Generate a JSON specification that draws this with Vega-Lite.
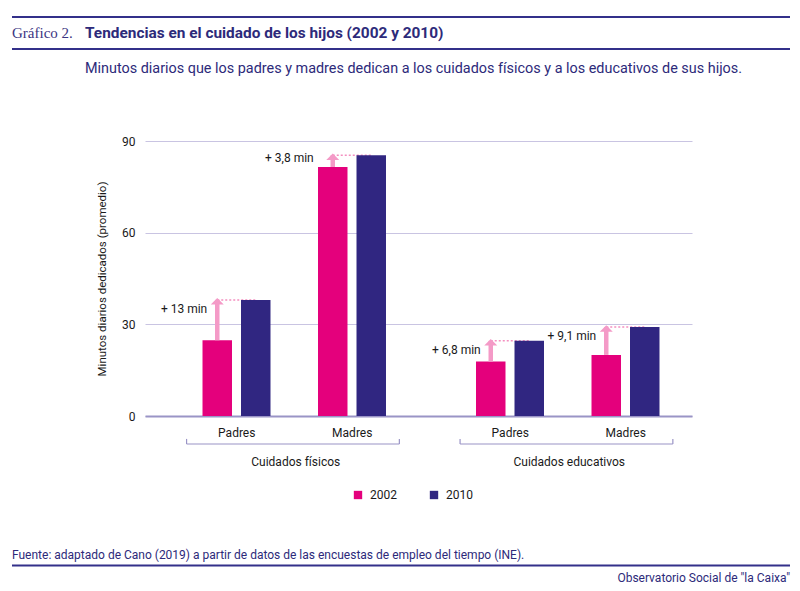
{
  "$schema": "https://vega.github.io/schema/vega-lite/v6.json",
  "description": "Tendencias en el cuidado de los hijos (2002 y 2010)",
  "width": 547,
  "height": 275,
  "autosize": {"type": "none"},
  "padding": {"left": 145, "top": 141, "right": 108, "bottom": 175},
  "background": "white",
  "config": {
    "view": {"stroke": null},
    "font": "Roboto",
    "text": {"font": "Roboto", "fontSize": 12, "color": "#1a1a1a"}
  },
  "datasets": {
    "barras": [
      {"cuidado": "Cuidados físicos", "grupo": "Padres", "año": "2002", "serie": "Padres 2002", "minutos": 24.8},
      {"cuidado": "Cuidados físicos", "grupo": "Padres", "año": "2010", "serie": "Padres 2010", "minutos": 38.0},
      {"cuidado": "Cuidados físicos", "grupo": "Madres", "año": "2002", "serie": "Madres 2002", "minutos": 81.5},
      {"cuidado": "Cuidados físicos", "grupo": "Madres", "año": "2010", "serie": "Madres 2010", "minutos": 85.3},
      {"cuidado": "Cuidados educativos", "grupo": "Padres", "año": "2002", "serie": "Padres 2002", "minutos": 17.8},
      {"cuidado": "Cuidados educativos", "grupo": "Padres", "año": "2010", "serie": "Padres 2010", "minutos": 24.6},
      {"cuidado": "Cuidados educativos", "grupo": "Madres", "año": "2002", "serie": "Madres 2002", "minutos": 20.0},
      {"cuidado": "Cuidados educativos", "grupo": "Madres", "año": "2010", "serie": "Madres 2010", "minutos": 29.1}
    ],
    "flechas": [
      {"cuidado": "Cuidados físicos", "grupo": "Padres", "s2002": "Padres 2002", "s2010": "Padres 2010", "v2002": 24.8, "v2010": 38.0, "etiqueta": "+ 13 min"},
      {"cuidado": "Cuidados físicos", "grupo": "Madres", "s2002": "Madres 2002", "s2010": "Madres 2010", "v2002": 81.5, "v2010": 85.3, "etiqueta": "+ 3,8 min"},
      {"cuidado": "Cuidados educativos", "grupo": "Padres", "s2002": "Padres 2002", "s2010": "Padres 2010", "v2002": 17.8, "v2010": 24.6, "etiqueta": "+ 6,8 min"},
      {"cuidado": "Cuidados educativos", "grupo": "Madres", "s2002": "Madres 2002", "s2010": "Madres 2010", "v2002": 20.0, "v2010": 29.1, "etiqueta": "+ 9,1 min"}
    ],
    "cuidados": [
      {"cuidado": "Cuidados físicos"},
      {"cuidado": "Cuidados educativos"}
    ]
  },
  "layer": [
    {
      "data": {"name": "flechas"},
      "transform": [{"fold": ["s2002", "s2010"], "as": ["clave", "punto"]}],
      "mark": {"type": "line", "color": "#f48fc0", "strokeDash": [2, 2], "strokeWidth": 1.5},
      "encoding": {
        "x": {"field": "cuidado", "type": "nominal"},
        "xOffset": {"field": "punto", "type": "nominal"},
        "y": {"field": "v2010", "type": "quantitative"},
        "detail": [
          {"field": "cuidado", "type": "nominal"},
          {"field": "grupo", "type": "nominal"}
        ]
      }
    },
    {
      "data": {"name": "barras"},
      "mark": {"type": "bar"},
      "encoding": {
        "x": {
          "field": "cuidado",
          "type": "nominal",
          "scale": {"domain": ["Cuidados físicos", "Cuidados educativos"], "paddingInner": 0, "paddingOuter": 0},
          "axis": {
            "title": null,
            "bandPosition": 0.5,
            "labelAngle": 0,
            "labelAlign": "center",
            "labelOffset": 14,
            "labelPadding": 45,
            "labelFontSize": 12,
            "labelColor": "#1a1a1a",
            "ticks": false,
            "grid": false,
            "domainColor": "#9a94c6",
            "domainWidth": 2
          }
        },
        "xOffset": {
          "field": "serie",
          "type": "nominal",
          "scale": {
            "domain": ["sep1", "Padres 2002", "Padres 2010", "sep2", "Madres 2002", "Madres 2010"],
            "paddingInner": 0.234,
            "paddingOuter": 0.669,
            "align": 0.369
          }
        },
        "y": {
          "field": "minutos",
          "type": "quantitative",
          "scale": {"domain": [0, 90]},
          "axis": {
            "values": [0, 30, 60, 90],
            "title": "Minutos diarios dedicados (promedio)",
            "titleFontSize": 11.5,
            "titleFontWeight": "normal",
            "titleColor": "#1a1a1a",
            "titlePadding": 14,
            "labelFontSize": 12,
            "labelColor": "#1a1a1a",
            "labelPadding": 10,
            "ticks": false,
            "domain": false,
            "gridColor": "#c9c4e2",
            "gridWidth": 1
          }
        },
        "color": {
          "field": "año",
          "type": "nominal",
          "scale": {"domain": ["2002", "2010"], "range": ["#e4007c", "#302681"]},
          "legend": {
            "title": null,
            "orient": "none",
            "legendX": 207,
            "legendY": 348,
            "direction": "horizontal",
            "symbolType": "square",
            "symbolSize": 70,
            "symbolStrokeWidth": 0,
            "labelFontSize": 12,
            "labelColor": "#1a1a1a",
            "labelOffset": 6,
            "columnPadding": 31,
            "padding": 0
          }
        }
      }
    },
    {
      "data": {"name": "flechas"},
      "mark": {"type": "rule", "color": "#f49ac7", "strokeWidth": 4.5},
      "encoding": {
        "x": {"field": "cuidado", "type": "nominal"},
        "xOffset": {"field": "s2002", "type": "nominal"},
        "y": {"field": "v2002", "type": "quantitative"},
        "y2": {"field": "v2010"}
      }
    },
    {
      "data": {"name": "flechas"},
      "mark": {"type": "point", "shape": "M0,-0.3L1,0.7L-1,0.7Z", "filled": true, "color": "#f49ac7", "size": 169, "opacity": 1},
      "encoding": {
        "x": {"field": "cuidado", "type": "nominal"},
        "xOffset": {"field": "s2002", "type": "nominal"},
        "y": {"field": "v2010", "type": "quantitative"}
      }
    },
    {
      "data": {"name": "flechas"},
      "transform": [{"filter": {"not": {"field": "etiqueta", "equal": "+ 3,8 min"}}}],
      "mark": {"type": "text", "align": "right", "baseline": "middle", "dx": -10, "dy": 9, "fontSize": 12},
      "encoding": {
        "x": {"field": "cuidado", "type": "nominal"},
        "xOffset": {"field": "s2002", "type": "nominal"},
        "y": {"field": "v2010", "type": "quantitative"},
        "text": {"field": "etiqueta"}
      }
    },
    {
      "data": {"name": "flechas"},
      "transform": [{"filter": {"field": "etiqueta", "equal": "+ 3,8 min"}}],
      "mark": {"type": "text", "align": "right", "baseline": "middle", "dx": -19, "dy": 3, "fontSize": 12},
      "encoding": {
        "x": {"field": "cuidado", "type": "nominal"},
        "xOffset": {"field": "s2002", "type": "nominal"},
        "y": {"field": "v2010", "type": "quantitative"},
        "text": {"field": "etiqueta"}
      }
    },
    {
      "data": {"name": "flechas"},
      "mark": {"type": "text", "align": "center", "baseline": "middle", "dx": 19.5, "fontSize": 12},
      "encoding": {
        "x": {"field": "cuidado", "type": "nominal"},
        "xOffset": {"field": "s2002", "type": "nominal"},
        "y": {"datum": -5.56},
        "text": {"field": "grupo"}
      }
    },
    {
      "data": {"name": "cuidados"},
      "mark": {"type": "rule", "color": "#9a94c6", "strokeWidth": 1.2},
      "encoding": {
        "x": {"field": "cuidado", "type": "nominal", "bandPosition": 0.152},
        "x2": {"field": "cuidado", "bandPosition": 0.93},
        "y": {"datum": -9.16}
      }
    },
    {
      "data": {"name": "cuidados"},
      "mark": {"type": "rule", "color": "#9a94c6", "strokeWidth": 1.2},
      "encoding": {
        "x": {"field": "cuidado", "type": "nominal", "bandPosition": 0.152},
        "y": {"datum": -9.16},
        "y2": {"datum": -7.5}
      }
    },
    {
      "data": {"name": "cuidados"},
      "mark": {"type": "rule", "color": "#9a94c6", "strokeWidth": 1.2},
      "encoding": {
        "x": {"field": "cuidado", "type": "nominal", "bandPosition": 0.93},
        "y": {"datum": -9.16},
        "y2": {"datum": -7.5}
      }
    },
    {
      "data": {"values": [{"y": 130.58}, {"y": 120.11}, {"y": -48.93}]},
      "mark": {"type": "rule", "color": "#33308a", "strokeWidth": 2.2},
      "encoding": {
        "x": {"datum": "Cuidados físicos", "bandPosition": -0.4863},
        "x2": {"datum": "Cuidados educativos", "bandPosition": 1.3583},
        "y": {"field": "y", "type": "quantitative"}
      }
    },
    {
      "data": {"values": [{"t": "Gráfico 2."}]},
      "mark": {"type": "text", "align": "left", "baseline": "middle", "font": "Liberation Serif", "fontSize": 15, "color": "#3b3582"},
      "encoding": {
        "x": {"datum": "Cuidados físicos", "bandPosition": -0.4863},
        "y": {"datum": 125.35},
        "text": {"field": "t"}
      }
    },
    {
      "data": {"values": [{"t": "Tendencias en el cuidado de los hijos (2002 y 2010)"}]},
      "mark": {"type": "text", "align": "left", "baseline": "middle", "fontSize": 15.4, "fontWeight": "bold", "color": "#2d2a7a"},
      "encoding": {
        "x": {"datum": "Cuidados físicos", "bandPosition": -0.2194},
        "y": {"datum": 125.35},
        "text": {"field": "t"}
      }
    },
    {
      "data": {"values": [{"t": "Minutos diarios que los padres y madres dedican a los cuidados físicos y a los educativos de sus hijos."}]},
      "mark": {"type": "text", "align": "left", "baseline": "middle", "fontSize": 14.4, "color": "#2d2a7a"},
      "encoding": {
        "x": {"datum": "Cuidados físicos", "bandPosition": -0.2194},
        "y": {"datum": 113.56},
        "text": {"field": "t"}
      }
    },
    {
      "data": {"values": [{"t": "Fuente: adaptado de Cano (2019) a partir de datos de las encuestas de empleo del tiempo (INE)."}]},
      "mark": {"type": "text", "align": "left", "baseline": "middle", "fontSize": 12, "color": "#2d2a7a"},
      "encoding": {
        "x": {"datum": "Cuidados físicos", "bandPosition": -0.4863},
        "y": {"datum": -45.64},
        "text": {"field": "t"}
      }
    },
    {
      "data": {"values": [{"t": "Observatorio Social de \"la Caixa\""}]},
      "mark": {"type": "text", "align": "right", "baseline": "middle", "fontSize": 12, "color": "#2d2a7a"},
      "encoding": {
        "x": {"datum": "Cuidados educativos", "bandPosition": 1.3583},
        "y": {"datum": -53.02},
        "text": {"field": "t"}
      }
    }
  ]
}
